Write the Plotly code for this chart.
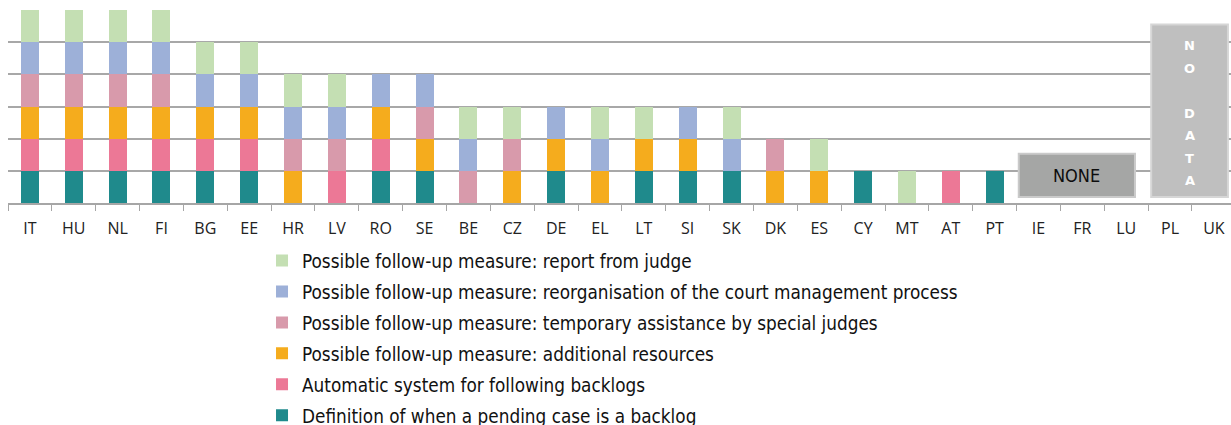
import plotly.graph_objects as go

countries = ["IT", "HU", "NL", "FI", "BG", "EE", "HR", "LV", "RO", "SE",
             "BE", "CZ", "DE", "EL", "LT", "SI", "SK", "DK", "ES", "CY",
             "MT", "AT", "PT", "IE", "FR", "LU", "PL", "UK"]

# 1 = measure in place, 0 = not in place (stacked bottom to top)
definition_backlog = [1, 1, 1, 1, 1, 1, 0, 0, 1, 1, 0, 0, 1, 0, 1, 1, 1, 0, 0, 1, 0, 0, 1, 0, 0, 0, 0, 0]
automatic_system   = [1, 1, 1, 1, 1, 1, 0, 1, 1, 0, 0, 0, 0, 0, 0, 0, 0, 0, 0, 0, 0, 1, 0, 0, 0, 0, 0, 0]
additional_res     = [1, 1, 1, 1, 1, 1, 1, 0, 1, 1, 0, 1, 1, 1, 1, 1, 0, 1, 1, 0, 0, 0, 0, 0, 0, 0, 0, 0]
temporary_judges   = [1, 1, 1, 1, 0, 0, 1, 1, 0, 1, 1, 1, 0, 0, 0, 0, 0, 1, 0, 0, 0, 0, 0, 0, 0, 0, 0, 0]
reorganisation     = [1, 1, 1, 1, 1, 1, 1, 1, 1, 1, 1, 0, 1, 1, 0, 1, 1, 0, 0, 0, 0, 0, 0, 0, 0, 0, 0, 0]
report_from_judge  = [1, 1, 1, 1, 1, 1, 1, 1, 0, 0, 1, 1, 0, 1, 1, 0, 1, 0, 1, 0, 1, 0, 0, 0, 0, 0, 0, 0]

series = [
    ("Definition of when a pending case is a backlog", definition_backlog, "#1f8a8c"),
    ("Automatic system for following backlogs", automatic_system, "#ec7896"),
    ("Possible follow-up measure: additional resources", additional_res, "#f5ac1d"),
    ("Possible follow-up measure: temporary assistance by special judges", temporary_judges, "#d89aab"),
    ("Possible follow-up measure: reorganisation of the court management process", reorganisation, "#9db0d8"),
    ("Possible follow-up measure: report from judge", report_from_judge, "#c4dfb3"),
]

none_countries = ["IE", "FR", "LU"]
no_data_countries = ["PL", "UK"]
no_data_letters = ["N", "O", "", "D", "A", "T", "A"]

fig = go.Figure()
n = len(series)
for i, (name, vals, color) in enumerate(series):
    fig.add_trace(go.Bar(
        x=countries, y=vals, name=name, legendgroup=f"g{i}",
        legendrank=n - i,
        marker=dict(color=color, line=dict(width=0)),
        hoverinfo="x+name",
    ))

# "NONE" box spanning IE-LU
i0 = countries.index(none_countries[0])
i1 = countries.index(none_countries[-1])
fig.add_shape(type="rect", xref="x", yref="y",
              x0=i0 - 0.45, x1=i1 + 0.2, y0=0.19, y1=1.53,
              fillcolor="#a5a6a5", line=dict(color="#cacaca", width=2), layer="above")
fig.add_annotation(x=(i0 - 0.45 + i1 + 0.2) / 2, y=0.86, xref="x", yref="y",
                   text="NONE", showarrow=False,
                   font=dict(family="DejaVu Sans Condensed", size=18, color="#0d0d0d"))

# "NO DATA" box spanning PL-UK
j0 = countries.index(no_data_countries[0])
j1 = countries.index(no_data_countries[-1])
fig.add_shape(type="rect", xref="x", yref="y",
              x0=j0 - 0.43, x1=j1 + 0.32, y0=0.19, y1=5.55,
              fillcolor="#bfbfbf", line=dict(color="#d6d6d6", width=2), layer="above")
xc = (j0 - 0.43 + j1 + 0.32) / 2
for k, letter in enumerate(no_data_letters):
    if letter:
        fig.add_annotation(x=xc, y=4.89 - k * 0.70, xref="x", yref="y",
                           text=f"<b>{letter}</b>", showarrow=False,
                           font=dict(family="DejaVu Sans", size=13, color="#ffffff"))

fig.update_layout(
    width=1231, height=425,
    margin=dict(l=8, r=0, t=10, b=222),
    barmode="stack", bargap=0.59,
    plot_bgcolor="#ffffff", paper_bgcolor="#ffffff",
    showlegend=True,
    legend=dict(
        orientation="v", traceorder="grouped", tracegroupgap=3.5,
        xref="paper", yref="container",
        x=0.2077, xanchor="left", y=0.431, yanchor="top",
        font=dict(family="DejaVu Sans Condensed", size=18.8, color="#111111"),
        bgcolor="rgba(0,0,0,0)",
    ),
    xaxis=dict(
        type="category", range=[-0.5, 27.39],
        tickson="boundaries", ticks="outside", ticklen=6, tickcolor="#a6a6a6",
        showline=True, linecolor="#a6a6a6", linewidth=1.5,
        showgrid=False,
        tickfont=dict(family="Open Sans", size=16, color="#222222"),
        ticklabelstandoff=10,
    ),
    yaxis=dict(
        range=[0, 6], showticklabels=False, dtick=1,
        showgrid=True, gridcolor="#a8a8a8", gridwidth=1.5,
        zeroline=False, showline=False,
    ),
)

fig.write_html("out.html")
